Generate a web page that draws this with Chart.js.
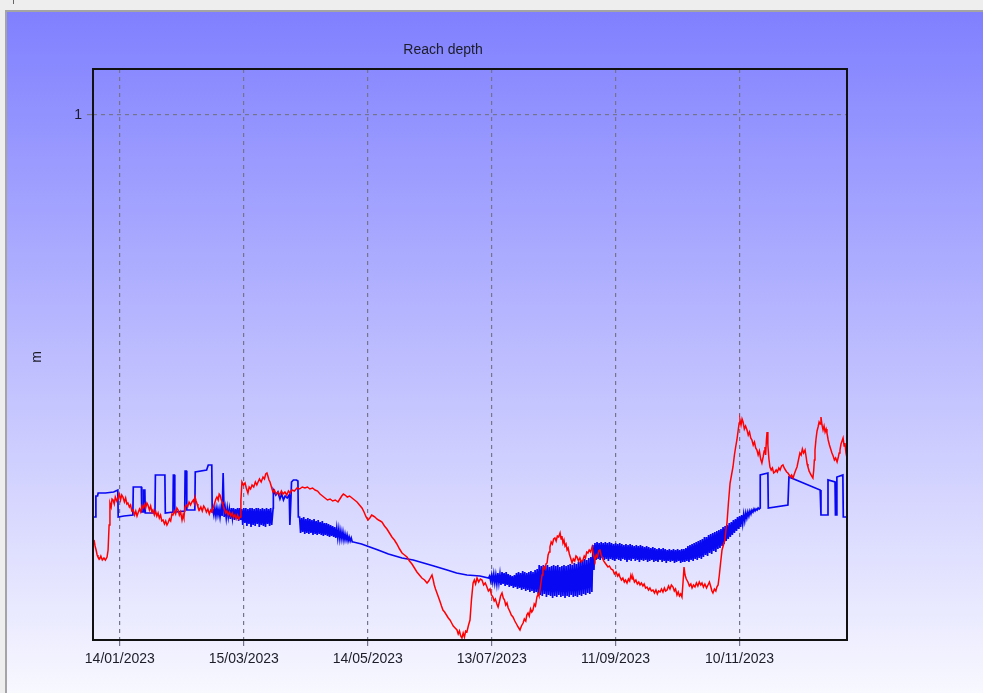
<!DOCTYPE html>
<html>
<head>
<meta charset="utf-8">
<title>Reach depth</title>
<script src="https://cdn.jsdelivr.net/npm/chart.js@4"></script>
<style>
  html, body { margin: 0; padding: 0; width: 983px; height: 693px; overflow: hidden; background: #eeeeee; }
  #mark { position: absolute; left: 13px; top: 0; width: 1px; height: 4px; background: #666; }
  #frame {
    position: absolute; left: 5px; top: 10px; width: 976px; height: 681px;
    border-left: 2px solid #a4a4a4; border-top: 2px solid #a4a4a4;
    background: linear-gradient(to bottom, #8080ff 0%, #f8f8ff 100%);
  }
  canvas { display: block; }
</style>
</head>
<body>
<div id="mark"></div>
<div id="frame"><canvas id="chart" width="976" height="681"></canvas></div>
<script>
// Time axis: days since 01/01/2023
const tickDays = [13, 73, 133, 193, 253, 313];
const tickLabels = ['14/01/2023', '15/03/2023', '14/05/2023', '13/07/2023', '11/09/2023', '10/11/2023'];
const depthTicks = [1];

// Observed depth (m), [day, depth]
const observedDepth = [
  [0.5,.575],[1.0,.569],[1.5,.565],[2.0,.560],[2.4,.558],[3.2,.556],[3.8,.559],[4.5,.555],[5.3,.557],[6.0,.555],
  [6.8,.558],[7.3,.565],[7.8,.590],[8.2,.612],[8.8,.608],[9.2,.616],[9.7,.615],[10.3,.611],[10.8,.618],[11.5,.614],
  [12.1,.617],[12.7,.621],[13.3,.615],[13.9,.620],[14.5,.618],[15.2,.613],[15.8,.617],[16.4,.611],[16.9,.612],[17.6,.608],
  [18.2,.610],[18.8,.604],[19.4,.605],[20.1,.600],[20.7,.604],[21.3,.599],[21.8,.602],[22.5,.606],[23.1,.603],[23.7,.609],
  [24.2,.607],[24.9,.611],[25.5,.607],[26.1,.612],[26.6,.610],[27.3,.605],[27.9,.609],[28.5,.603],[29.0,.605],[29.7,.600],
  [30.3,.604],[30.9,.599],[31.5,.602],[32.1,.597],[32.7,.600],[33.3,.594],[33.9,.595],[34.6,.591],[35.2,.594],[35.8,.590],
  [36.3,.592],[37.0,.596],[37.6,.594],[38.2,.601],[38.7,.600],[39.4,.604],[40.0,.601],[40.6,.607],[41.2,.605],[41.8,.600],
  [42.4,.603],[43.1,.595],[43.6,.600],[44.0,.597],[44.5,.608],[45.2,.610],[45.8,.608],[46.5,.613],[47.2,.610],[47.9,.613],
  [48.6,.615],[49.0,.612],[49.4,.618],[49.9,.614],[50.4,.611],[50.8,.608],[51.5,.605],[52.2,.608],[52.9,.604],[53.6,.609],
  [54.2,.607],[54.9,.603],[55.6,.606],[56.3,.601],[57.0,.605],[57.6,.603],[58.3,.608],[58.9,.612],[59.5,.616],[60.0,.618],
  [60.6,.615],[61.1,.621],[61.5,.620],[62.0,.616],[62.5,.613],[62.9,.610],[63.6,.606],[64.2,.602],[64.8,.604],[65.4,.600],
  [66.1,.603],[66.7,.599],[67.4,.602],[68.0,.598],[68.7,.600],[69.3,.596],[70.0,.600],[70.6,.596],[71.2,.598],[71.6,.615],
  [72.1,.633],[72.8,.630],[73.6,.632],[74.2,.627],[75.0,.622],[75.6,.628],[76.3,.626],[77.0,.630],[77.8,.628],[78.6,.633],
  [79.3,.630],[79.9,.633],[80.6,.636],[81.4,.633],[82.3,.638],[83.0,.636],[83.6,.641],[84.2,.642],[84.8,.638],[85.2,.635],
  [85.7,.633],[86.4,.628],[87.1,.623],[87.8,.625],[88.6,.621],[89.6,.623],[90.4,.620],[91.2,.624],[92.0,.621],[92.9,.623],
  [93.8,.620],[94.6,.624],[95.4,.622],[96.3,.625],[97.5,.624],[98.8,.627],[100.0,.626],[101.3,.628],[102.6,.627],[103.8,.628],
  [105.0,.626],[106.3,.627],[107.5,.625],[108.7,.624],[109.9,.621],[111.1,.619],[112.3,.617],[113.5,.615],[114.8,.616],[116.0,.614],
  [117.3,.615],[118.6,.613],[119.5,.616],[120.4,.619],[121.2,.621],[122.0,.620],[123.1,.618],[124.2,.619],[125.4,.617],[126.6,.615],
  [127.8,.613],[129.0,.610],[130.2,.607],[131.2,.603],[132.2,.598],[133.1,.595],[134.0,.597],[134.9,.600],[135.7,.599],[136.5,.598],
  [137.4,.596],[138.2,.595],[139.1,.594],[139.9,.593],[141.1,.589],[142.3,.586],[143.5,.582],[144.7,.578],[145.9,.575],[147.1,.571],
  [148.4,.566],[149.6,.562],[150.8,.560],[152.0,.558],[153.2,.554],[154.4,.551],[155.6,.547],[156.8,.543],[158.0,.540],[159.2,.537],
  [160.5,.535],[161.7,.532],[162.5,.534],[163.3,.537],[164.1,.540],[164.7,.535],[165.2,.530],[165.8,.526],[166.5,.522],[167.2,.518],
  [167.9,.514],[168.7,.509],[169.4,.505],[170.2,.503],[171.1,.500],[172.0,.497],[172.8,.495],[173.6,.492],[174.4,.489],[175.3,.487],
  [176.2,.485],[176.8,.481],[177.4,.484],[178.0,.479],[178.6,.477],[179.2,.482],[179.8,.478],[180.4,.484],[181.0,.483],[181.8,.490],
  [182.5,.495],[183.2,.515],[184.0,.532],[184.6,.535],[185.2,.531],[185.9,.537],[186.7,.533],[187.5,.536],[188.3,.535],[189.1,.530],
  [189.9,.532],[190.7,.528],[191.4,.524],[192.2,.526],[192.9,.520],[193.6,.518],[194.2,.514],[194.8,.516],[195.5,.511],[196.1,.508],
  [196.7,.513],[197.3,.519],[198.0,.522],[198.6,.517],[199.2,.515],[199.8,.510],[200.4,.512],[201.0,.507],[201.7,.504],[202.5,.500],
  [203.3,.498],[204.2,.494],[205.0,.491],[205.8,.488],[206.7,.485],[207.4,.489],[208.2,.492],[208.8,.496],[209.5,.494],[210.0,.500],
  [210.6,.502],[211.2,.499],[211.8,.506],[212.4,.503],[213.0,.505],[213.6,.511],[214.2,.509],[214.9,.518],[215.5,.521],[215.9,.519],
  [216.4,.525],[216.9,.533],[217.4,.540],[217.8,.545],[218.3,.548],[218.8,.546],[219.3,.551],[219.8,.552],[220.3,.560],[220.8,.563],
  [221.2,.568],[221.8,.573],[222.4,.571],[223.0,.576],[223.6,.577],[224.2,.574],[224.8,.579],[225.4,.578],[226.1,.582],[226.6,.576],
  [227.0,.579],[227.5,.572],[228.0,.575],[228.5,.569],[229.0,.571],[229.5,.565],[230.0,.567],[230.6,.561],[231.2,.557],[231.9,.552],
  [232.5,.556],[233.2,.554],[233.8,.559],[234.3,.558],[235.0,.554],[235.7,.557],[236.4,.553],[237.2,.555],[237.8,.559],[238.4,.557],
  [239.0,.563],[239.6,.562],[240.2,.565],[240.9,.563],[241.6,.568],[242.1,.562],[242.6,.558],[243.0,.555],[243.6,.560],[244.2,.558],
  [244.8,.564],[245.4,.565],[246.0,.560],[246.6,.557],[247.2,.554],[247.9,.552],[248.6,.550],[249.3,.548],[250.0,.549],[250.8,.546],
  [251.7,.545],[252.4,.541],[253.2,.543],[254.0,.539],[254.6,.541],[255.1,.538],[255.8,.535],[256.5,.537],[257.2,.533],[257.8,.535],
  [258.5,.532],[259.2,.536],[259.8,.534],[260.4,.540],[261.0,.536],[261.4,.538],[262.1,.533],[262.8,.535],[263.5,.531],[264.2,.533],
  [264.8,.530],[265.5,.532],[266.2,.529],[266.8,.531],[267.5,.527],[268.2,.528],[268.9,.525],[269.6,.527],[270.3,.524],[271.1,.525],
  [271.8,.522],[272.5,.525],[273.2,.521],[273.8,.524],[274.5,.523],[275.2,.526],[275.9,.523],[276.6,.527],[277.2,.524],[277.9,.525],
  [278.6,.529],[279.3,.526],[280.0,.530],[280.8,.528],[281.4,.524],[282.0,.526],[282.7,.520],[283.3,.523],[283.9,.519],[284.5,.521],
  [285.1,.518],[285.6,.532],[286.1,.548],[286.6,.540],[287.2,.536],[288.0,.533],[288.7,.529],[289.4,.531],[290.0,.527],[290.7,.530],
  [291.4,.528],[292.1,.532],[292.8,.529],[293.5,.533],[294.2,.530],[294.8,.532],[295.5,.528],[296.2,.531],[297.0,.527],[297.7,.530],
  [298.4,.533],[299.1,.528],[299.6,.524],[300.1,.522],[300.8,.526],[301.5,.524],[302.0,.528],[302.6,.530],[303.2,.540],[303.8,.552],
  [304.5,.565],[305.2,.570],[305.9,.575],[306.4,.585],[306.9,.592],[307.6,.612],[308.4,.632],[309.1,.640],[309.8,.648],[310.5,.660],
  [311.1,.668],[311.7,.675],[312.4,.686],[312.8,.692],[313.2,.695],[313.7,.690],[314.2,.696],[314.7,.693],[315.3,.686],[315.9,.689],
  [316.6,.685],[317.2,.680],[317.8,.683],[318.4,.677],[319.0,.675],[319.6,.670],[320.2,.673],[320.8,.667],[321.4,.665],[322.0,.660],
  [322.6,.664],[323.2,.656],[323.8,.652],[324.4,.658],[324.9,.664],[325.3,.668],[325.6,.660],[326.0,.675],[326.3,.683],[326.7,.670],
  [327.2,.656],[327.7,.648],[328.3,.645],[328.9,.647],[329.5,.642],[330.1,.643],[330.7,.645],[331.3,.643],[332.0,.647],[332.6,.645],
  [333.3,.649],[334.0,.650],[334.6,.647],[335.2,.645],[335.8,.643],[336.4,.642],[337.0,.640],[337.6,.638],[338.2,.640],[338.9,.637],
  [339.5,.641],[340.2,.645],[340.8,.648],[341.5,.655],[342.2,.662],[342.8,.660],[343.4,.666],[344.0,.662],[344.7,.665],[345.3,.657],
  [345.7,.651],[346.1,.648],[346.7,.644],[347.3,.641],[347.9,.639],[348.5,.637],[348.9,.645],[349.2,.655],[349.5,.665],[350.0,.676],
  [350.5,.684],[351.0,.688],[351.5,.693],[352.0,.691],[352.4,.698],[352.9,.690],[353.4,.685],[353.9,.689],[354.4,.683],[354.9,.686],
  [355.3,.682],[355.9,.675],[356.5,.670],[357.1,.666],[357.7,.662],[358.3,.659],[358.9,.655],[359.5,.657],[360.2,.653],[360.8,.658],
  [361.2,.662],[361.6,.665],[362.1,.671],[362.6,.674],[363.1,.677],[363.6,.669],[364.0,.672],[364.5,.662],[365.0,.657]
];

// Simulated depth (m), [day, depth], outside the daily-cycling periods
const simulatedDepth = [
  [0.5,0.598],[1.2,0.598],[1.4,0.619],[2.2,0.619],[2.5,0.622],[6.0,0.622],[10.0,0.623],[12.0,0.625],
  [12.2,0.598],[15.0,0.599],[19.3,0.600],[19.5,0.628],[23.4,0.628],[23.6,0.603],[24.3,0.603],[24.5,0.625],
  [25.1,0.625],[25.3,0.602],[30.0,0.602],[30.2,0.640],[34.8,0.640],[35.0,0.602],[38.7,0.603],[38.9,0.640],
  [39.4,0.640],[39.6,0.603],[44.4,0.604],[44.6,0.644],[45.2,0.644],[45.4,0.605],[49.3,0.605],[49.5,0.643],
  [55.0,0.645],[55.8,0.650],[57.5,0.650],[57.7,0.603],
  [87.2,0.607],[87.3,0.625],[88.5,0.620],[89.5,0.623],[90.5,0.616],[91.3,0.621],[92.2,0.615],[93.0,0.619],
  [94.0,0.617],[95.0,0.620],[95.3,0.590],[95.8,0.615],[96.1,0.633],[97.0,0.635],[98.5,0.635],[99.2,0.634],
  [99.4,0.598],
  [126.0,0.573],[130.0,0.571],[134.0,0.568],[138.0,0.565],[143.0,0.561],[149.6,0.557],[155.0,0.555],[160.0,0.552],
  [165.0,0.549],[171.4,0.545],[176.0,0.542],[181.0,0.540],[187.3,0.539],[191.5,0.537],
  [322.9,0.607],[323.0,0.640],[326.7,0.642],[326.9,0.607],[336.4,0.610],[336.9,0.638],[352.0,0.625],[352.4,0.600],
  [355.6,0.600],[355.8,0.635],[359.2,0.633],[359.4,0.600],[359.9,0.600],[360.1,0.638],[363.0,0.640],[363.2,0.598],
  [365.0,0.598]
];

// Daily cycling periods of the simulated depth: first day, then [daily high, daily low] per day
const cycleStarts = [58, 100, 192];
const cycleHighLow = [
  [
    [0.606,0.600],[0.607,0.599],[0.607,0.600],[0.606,0.598],[0.607,0.599],[0.642,0.598],[0.607,0.597],[0.607,0.598],
    [0.606,0.596],[0.607,0.597],[0.607,0.595],[0.606,0.596],[0.607,0.594],[0.607,0.595],[0.606,0.590],[0.607,0.592],
    [0.607,0.589],[0.606,0.591],[0.607,0.588],[0.607,0.590],[0.606,0.589],[0.607,0.591],[0.607,0.588],[0.606,0.590],
    [0.607,0.589],[0.606,0.588],[0.607,0.591],[0.606,0.589],[0.607,0.590]
  ],
  [
    [0.598,0.582],[0.597,0.583],[0.598,0.581],[0.596,0.582],[0.597,0.581],[0.596,0.582],[0.595,0.580],[0.596,0.581],
    [0.594,0.580],[0.595,0.581],[0.593,0.580],[0.594,0.579],[0.592,0.580],[0.592,0.579],[0.591,0.578],[0.590,0.579],
    [0.589,0.578],[0.588,0.577],[0.587,0.577],[0.586,0.576],[0.584,0.576],[0.583,0.575],[0.581,0.575],[0.580,0.574],
    [0.578,0.574],[0.577,0.573]
  ],
  [
    [0.539,0.534],[0.540,0.533],[0.541,0.532],[0.540,0.531],[0.542,0.532],[0.541,0.530],[0.543,0.531],[0.542,0.529],
    [0.543,0.530],[0.541,0.528],[0.540,0.529],[0.539,0.527],[0.540,0.528],[0.542,0.526],[0.543,0.527],[0.542,0.525],
    [0.544,0.526],[0.543,0.524],[0.542,0.525],[0.543,0.523],[0.544,0.524],[0.543,0.522],[0.545,0.523],[0.546,0.521],
    [0.550,0.520],[0.549,0.519],[0.550,0.521],[0.549,0.518],[0.550,0.520],[0.548,0.519],[0.549,0.517],[0.550,0.519],
    [0.549,0.518],[0.550,0.520],[0.548,0.518],[0.549,0.519],[0.550,0.517],[0.549,0.519],[0.550,0.518],[0.551,0.520],
    [0.550,0.518],[0.552,0.519],[0.551,0.518],[0.553,0.520],[0.554,0.519],[0.555,0.521],[0.556,0.520],[0.555,0.522],
    [0.557,0.521],[0.558,0.523],
    [0.570,0.545],[0.572,0.555],[0.573,0.556],[0.572,0.555],[0.573,0.557],[0.572,0.555],[0.573,0.556],[0.572,0.554],
    [0.573,0.556],[0.572,0.555],[0.571,0.554],[0.572,0.556],[0.571,0.555],[0.572,0.554],[0.571,0.556],[0.570,0.555],
    [0.571,0.553],[0.570,0.555],[0.571,0.554],[0.570,0.556],[0.569,0.554],[0.570,0.555],[0.569,0.553],[0.570,0.555],
    [0.569,0.554],[0.568,0.555],[0.569,0.553],[0.568,0.554],[0.567,0.555],[0.568,0.553],[0.567,0.554],[0.566,0.553],
    [0.567,0.555],[0.566,0.553],[0.567,0.554],[0.566,0.552],[0.565,0.554],[0.566,0.553],[0.565,0.554],[0.566,0.552],
    [0.565,0.553],[0.566,0.554],[0.565,0.552],[0.566,0.553],
    [0.566,0.553],[0.567,0.554],[0.569,0.553],[0.570,0.555],[0.571,0.554],[0.572,0.556],[0.573,0.555],[0.574,0.557],
    [0.575,0.556],[0.576,0.558],[0.578,0.560],[0.578,0.559],[0.580,0.562],[0.581,0.561],[0.582,0.564],[0.583,0.563],
    [0.584,0.566],[0.585,0.567],[0.586,0.569],[0.588,0.571],[0.589,0.574],[0.590,0.576],[0.592,0.578],[0.593,0.580],
    [0.595,0.582],[0.596,0.584],[0.598,0.586],[0.599,0.588],[0.600,0.591],[0.601,0.594],[0.602,0.597],[0.603,0.599],
    [0.604,0.601],[0.605,0.603],[0.606,0.604],[0.606,0.605],[0.607,0.606]
  ]
];

function toPoints(pairs) {
  return pairs.map(p => ({ x: p[0], y: p[1] }));
}

function simulatedPoints() {
  const pts = toPoints(simulatedDepth);
  cycleStarts.forEach((start, k) => {
    cycleHighLow[k].forEach((hl, i) => {
      pts.push({ x: start + i, y: hl[0] });
      pts.push({ x: start + i + 0.5, y: hl[1] });
    });
  });
  return pts.sort((a, b) => a.x - b.x);
}

const TEXT = '#1c1c28';
const FONT = { family: '"Liberation Sans", Arial, sans-serif', size: 14 };
const GRID = '#74748a';

const decorations = {
  id: 'decorations',
  afterDraw(chart) {
    const { ctx, chartArea: a } = chart;
    ctx.save();
    ctx.strokeStyle = '#111';
    ctx.lineWidth = 2;
    ctx.strokeRect(a.left, a.top, a.right - a.left, a.bottom - a.top);
    ctx.fillStyle = TEXT;
    ctx.font = '14px "Liberation Sans", Arial, sans-serif';
    ctx.textAlign = 'center';
    ctx.textBaseline = 'middle';
    ctx.fillText('Reach depth', 436, 38);
    ctx.translate(30, 345);
    ctx.rotate(-Math.PI / 2);
    ctx.fillText('m', 0, 0);
    ctx.restore();
  }
};

new Chart(document.getElementById('chart'), {
  type: 'line',
  data: {
    datasets: [
      {
        label: 'Observed',
        data: toPoints(observedDepth),
        borderColor: '#ff0000',
        borderWidth: 1.5,
        pointRadius: 0,
        tension: 0
      },
      {
        label: 'Simulated',
        data: simulatedPoints(),
        borderColor: '#0808f2',
        borderWidth: 1.7,
        pointRadius: 0,
        tension: 0
      }
    ]
  },
  options: {
    responsive: false,
    animation: false,
    layout: { padding: { top: 57, right: 136, bottom: 0, left: 0 } },
    plugins: {
      legend: { display: false },
      tooltip: { enabled: false },
      title: { display: false }
    },
    scales: {
      x: {
        type: 'linear',
        min: 0,
        max: 365,
        afterBuildTicks(scale) { scale.ticks = tickDays.map(v => ({ value: v })); },
        afterFit(scale) { scale.height = 53; },
        ticks: {
          autoSkip: false,
          maxRotation: 0,
          padding: 5,
          color: TEXT,
          font: FONT,
          callback(value) { const i = tickDays.indexOf(value); return i >= 0 ? tickLabels[i] : ''; }
        },
        grid: { color: GRID, lineWidth: 1.2, tickLength: 6 },
        border: { display: false, dash: [4, 4] }
      },
      y: {
        type: 'linear',
        min: 0.475,
        max: 1.046,
        afterBuildTicks(scale) { scale.ticks = depthTicks.map(v => ({ value: v })); },
        afterFit(scale) { scale.width = 86; },
        ticks: { padding: 5, color: TEXT, font: FONT, callback: v => String(v) },
        grid: { color: GRID, lineWidth: 1.2, tickLength: 6 },
        border: { display: false, dash: [4, 4] }
      }
    }
  },
  plugins: [decorations]
});
</script>
</body>
</html>
